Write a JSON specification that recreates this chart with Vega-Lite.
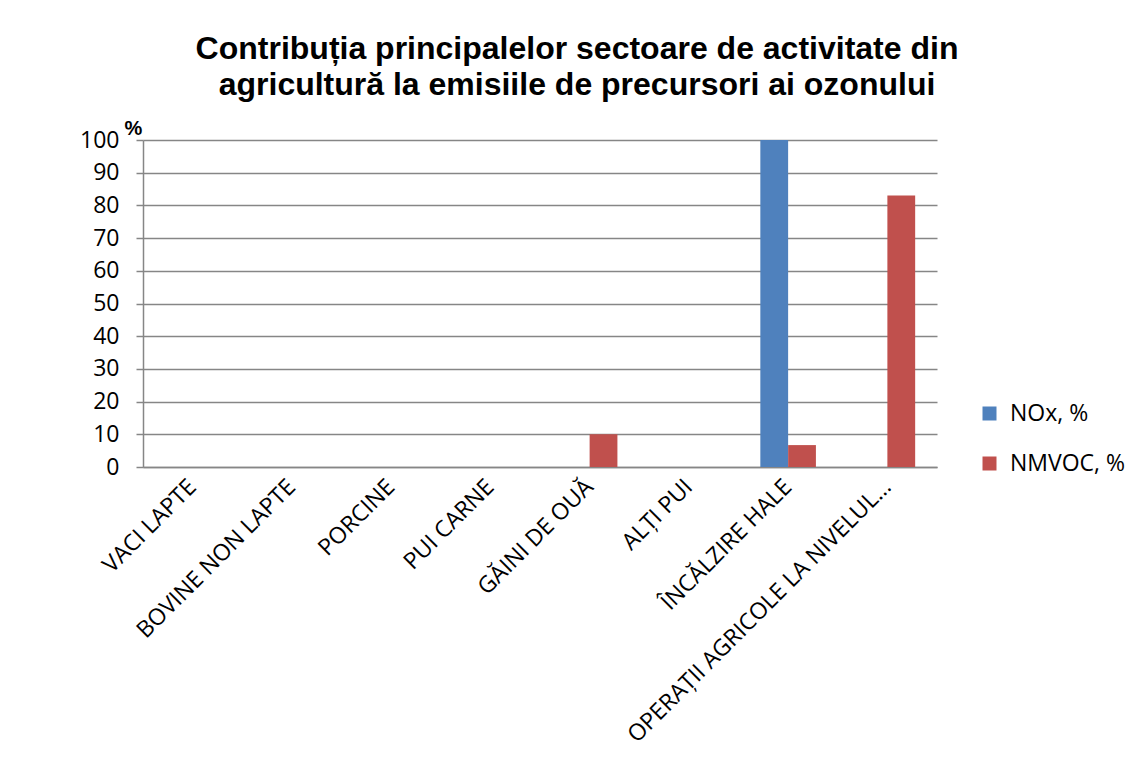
{
  "$schema": "https://vega.github.io/schema/vega-lite/v6.json",
  "autosize": {"type": "none"},
  "width": 794,
  "height": 327,
  "padding": {"left": 143, "top": 140, "right": 194, "bottom": 295},
  "background": "white",
  "title": {
    "text": ["Contribuția principalelor sectoare de activitate din", "agricultură la emisiile de precursori ai ozonului"],
    "font": "Liberation Sans",
    "fontSize": 32,
    "fontWeight": "bold",
    "color": "#000000",
    "anchor": "middle",
    "dx": 37,
    "lineHeight": 36,
    "offset": 16
  },
  "data": {
    "values": [
      {"category": "VACI LAPTE", "series": "NOx, %", "value": 0},
      {"category": "VACI LAPTE", "series": "NMVOC, %", "value": 0},
      {"category": "BOVINE NON LAPTE", "series": "NOx, %", "value": 0},
      {"category": "BOVINE NON LAPTE", "series": "NMVOC, %", "value": 0},
      {"category": "PORCINE", "series": "NOx, %", "value": 0},
      {"category": "PORCINE", "series": "NMVOC, %", "value": 0},
      {"category": "PUI CARNE", "series": "NOx, %", "value": 0},
      {"category": "PUI CARNE", "series": "NMVOC, %", "value": 0},
      {"category": "GĂINI DE OUĂ", "series": "NOx, %", "value": 0},
      {"category": "GĂINI DE OUĂ", "series": "NMVOC, %", "value": 10},
      {"category": "ALȚI PUI", "series": "NOx, %", "value": 0},
      {"category": "ALȚI PUI", "series": "NMVOC, %", "value": 0},
      {"category": "ÎNCĂLZIRE HALE", "series": "NOx, %", "value": 100},
      {"category": "ÎNCĂLZIRE HALE", "series": "NMVOC, %", "value": 6.7},
      {"category": "OPERAȚII AGRICOLE LA NIVELUL…", "series": "NOx, %", "value": 0},
      {"category": "OPERAȚII AGRICOLE LA NIVELUL…", "series": "NMVOC, %", "value": 83}
    ]
  },
  "mark": {"type": "bar"},
  "encoding": {
    "x": {
      "field": "category",
      "type": "nominal",
      "sort": null,
      "scale": {"paddingInner": 0.44, "paddingOuter": 0.22},
      "axis": {
        "title": null,
        "labelAngle": -45,
        "labelAlign": "right",
        "labelBaseline": "middle",
        "labelFont": "Open Sans",
        "labelFontSize": 23,
        "labelColor": "#000000",
        "labelPadding": 16,
        "labelLimit": 0,
        "ticks": false,
        "domainColor": "#868686",
        "domainWidth": 1.5
      }
    },
    "xOffset": {"field": "series", "type": "nominal", "sort": ["NOx, %", "NMVOC, %"]},
    "y": {
      "field": "value",
      "type": "quantitative",
      "scale": {"domain": [0, 100], "nice": false},
      "axis": {
        "values": [0, 10, 20, 30, 40, 50, 60, 70, 80, 90, 100],
        "title": "%",
        "titleAngle": 0,
        "titleAlign": "center",
        "titleBaseline": "middle",
        "titleX": -10,
        "titleY": -12,
        "titleFont": "Liberation Sans",
        "titleFontSize": 20,
        "titleFontWeight": "bold",
        "titleColor": "#000000",
        "labelFont": "Open Sans",
        "labelFontSize": 23,
        "labelColor": "#000000",
        "labelPadding": 17,
        "tickSize": 7,
        "tickColor": "#868686",
        "tickWidth": 1.5,
        "domainColor": "#868686",
        "domainWidth": 1.5,
        "gridColor": "#868686",
        "gridWidth": 1.5
      }
    },
    "color": {
      "field": "series",
      "type": "nominal",
      "sort": ["NOx, %", "NMVOC, %"],
      "scale": {"domain": ["NOx, %", "NMVOC, %"], "range": ["#4F81BD", "#C0504D"]},
      "legend": {
        "title": null,
        "orient": "none",
        "legendX": 835,
        "legendY": 262,
        "symbolType": "square",
        "symbolSize": 196,
        "symbolStrokeWidth": 0,
        "labelFont": "Open Sans",
        "labelFontSize": 23,
        "labelColor": "#000000",
        "labelOffset": 9,
        "rowPadding": 26
      }
    }
  },
  "config": {"view": {"stroke": null}}
}
